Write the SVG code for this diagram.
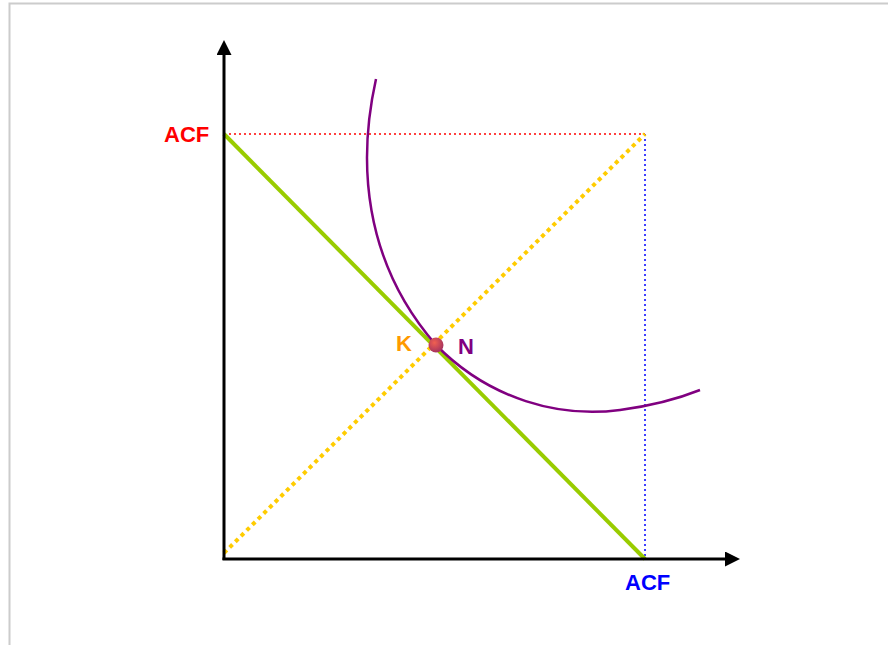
<svg xmlns="http://www.w3.org/2000/svg" width="888" height="645" viewBox="0 0 888 645">
<defs>
<style>
.lbl{font-family:"Liberation Sans",Arial,sans-serif;font-weight:bold;font-size:22px}
.axis{stroke:#000;stroke-width:3;fill:none}
</style>
<marker id="arr" viewBox="0 0 10 10" refX="2" refY="5" markerWidth="5" markerHeight="5" orient="auto" markerUnits="strokeWidth">
<path d="M0,0 L10,5 L0,10 z" fill="#000"/>
</marker>
<radialGradient id="dot" cx="0.4" cy="0.35" r="0.7">
<stop offset="0" stop-color="#f06050"/>
<stop offset="1" stop-color="#a03060"/>
</radialGradient>
</defs>
<rect x="0" y="0" width="888" height="645" fill="#fff"/>
<rect x="9.5" y="3.5" width="890" height="660" fill="none" stroke="#ccc" stroke-width="2"/>
<g id="connectors">
<line x1="224" y1="134" x2="645" y2="134" stroke="#f00" stroke-width="1.5" stroke-dasharray="2,3"/>
<line x1="645" y1="134" x2="645" y2="559" stroke="#00f" stroke-width="1.5" stroke-dasharray="2,3"/>
<line x1="224" y1="553" x2="645" y2="134" stroke="#ffcc00" stroke-width="4" stroke-dasharray="4,4"/>
<line x1="224" y1="134" x2="645" y2="559" stroke="#99cc00" stroke-width="4"/>
<path d="M376,79 C358,160 362,260 436,345 C490,400 560,418 620,410 C650,406 680,398 700,390" fill="none" stroke="#800080" stroke-width="2.5"/>
<line x1="224" y1="560" x2="224" y2="52" class="axis" marker-end="url(#arr)"/>
<line x1="222.5" y1="559" x2="728" y2="559" class="axis" marker-end="url(#arr)"/>
</g>
<g id="point">
<circle cx="436" cy="345" r="7.5" fill="url(#dot)"/>
</g>
<g id="labels">
<text x="164" y="142" class="lbl" fill="#f00">ACF</text>
<text x="625" y="590" class="lbl" fill="#00f">ACF</text>
<text x="396" y="351" class="lbl" fill="#ff9900">K</text>
<text x="458" y="354" class="lbl" fill="#800080">N</text>
</g>
</svg>
